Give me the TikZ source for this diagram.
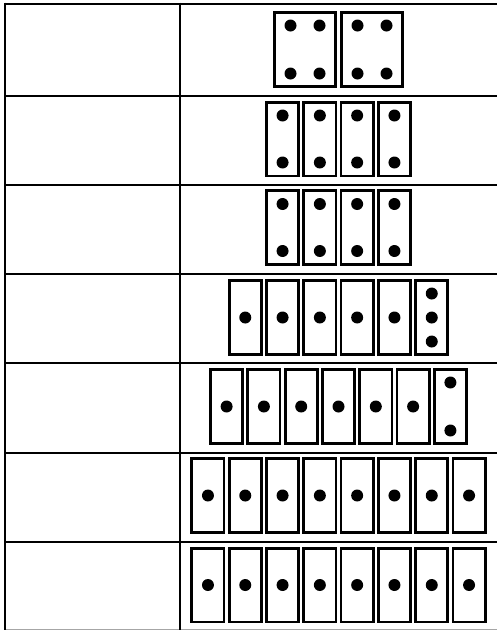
\documentclass[tikz,border=0pt]{standalone}
\usepackage{tikz}
\usetikzlibrary{positioning}
\tikzset{
  gridln/.style={draw=black, line width=2.8pt},
  cardbox/.style={rectangle, draw=black, line width=2.8pt, minimum width=32.2pt, minimum height=73.8pt, inner sep=0pt},
  widebox/.style={cardbox, minimum width=61.2pt},
  pip/.style={circle, fill=black, minimum size=12pt, inner sep=0pt}
}

\begin{document}
\begin{tikzpicture}[x=1pt, y=-1pt]
  \useasboundingbox (0,0) rectangle (496,630);
  % table
  \foreach \y in {4,96,185,274,363,453,542}
    \draw[gridln] (5,\y) -- (500,\y);
  \draw[draw=gray!70, line width=1pt] (5,629) -- (500,629);
  \draw[gridln] (5,2.6) -- (5,629.5);
  \draw[gridln] (180,2.6) -- (180,629.5);
  % row 1
  \node[widebox] (r1-1) at (305,49.5) {};
  \node[widebox] (r1-2) at (372,49.5) {};
  \foreach \i in {1,2}
    \foreach \dx in {-14.5,14.5}
      \foreach \dy in {-24,24}
        \node[pip] at ([xshift=\dx pt, yshift=\dy pt]r1-\i.center) {};
  % rows 2 to 7
  \foreach \n/\y [count=\r from 2] in {4/139, 4/227.5, 6/317.5, 7/406.5, 8/495.5, 8/585}
    \foreach \i in {1,...,\n}
      \node[cardbox] (r\r-\i) at ({338.5+(\i-(\n+1)/2)*37.3},\y) {};
  % pips
  \foreach \r in {2,3}
    \foreach \i in {1,...,4} {
      \node[pip] at ([yshift=23.5pt]r\r-\i.center) {};
      \node[pip] at ([yshift=-23.5pt]r\r-\i.center) {};
    }
  \foreach \i in {1,...,5}
    \node[pip] at (r4-\i.center) {};
  \foreach \dy in {-24,0,24}
    \node[pip] at ([yshift=\dy pt]r4-6.center) {};
  \foreach \i in {1,...,6}
    \node[pip] at (r5-\i.center) {};
  \foreach \dy in {-24,24}
    \node[pip] at ([yshift=\dy pt]r5-7.center) {};
  \foreach \r in {6,7}
    \foreach \i in {1,...,8}
      \node[pip] at (r\r-\i.center) {};
\end{tikzpicture}
\end{document}
